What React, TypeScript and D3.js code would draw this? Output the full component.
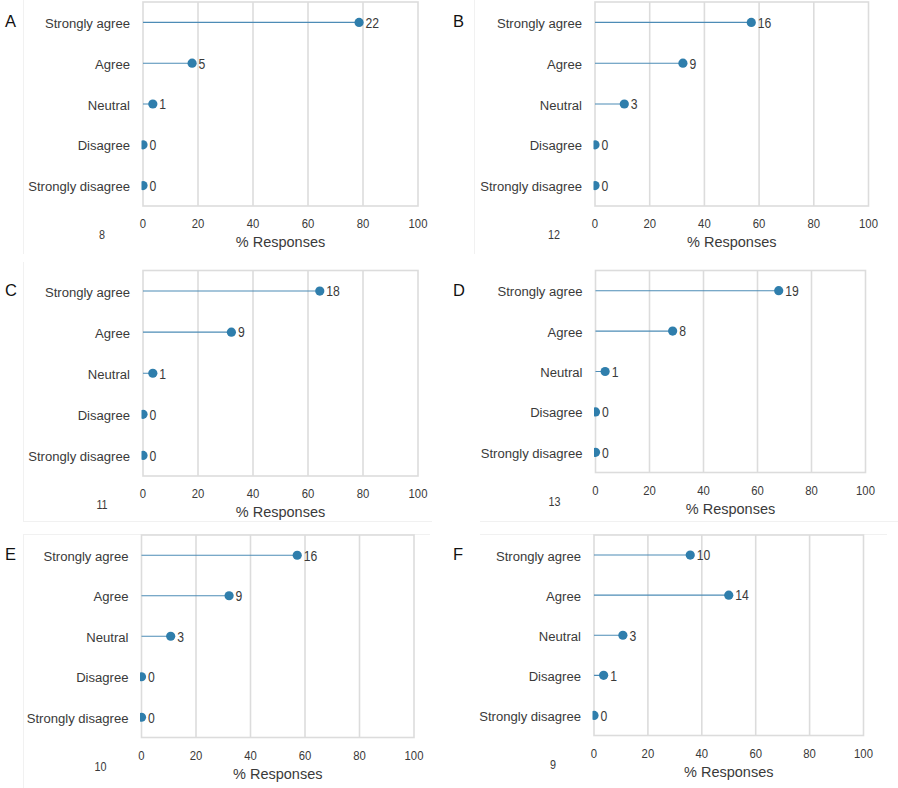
import * as d3 from 'd3'

// Likert categories, top to bottom
const categories = ['Strongly agree', 'Agree', 'Neutral', 'Disagree', 'Strongly disagree']

// response counts per panel (percent = count / total)
const countsA = [22, 5, 1, 0, 0]
const countsB = [16, 9, 3, 0, 0]
const countsC = [18, 9, 1, 0, 0]
const countsD = [19, 8, 1, 0, 0]
const countsE = [16, 9, 3, 0, 0]
const countsF = [10, 14, 3, 1, 0]

const panelLetters = ['A', 'B', 'C', 'D', 'E', 'F']
const panelNotes = ['8', '12', '11', '13', '10', '9']
const xTicks = [0, 20, 40, 60, 80, 100]
const xTitle = '% Responses'

const panelCounts = [countsA, countsB, countsC, countsD, countsE, countsF]

// plot frame of each panel in page pixels
const frames = [
  { left: 143, right: 418, top: 2, bottom: 206 },
  { left: 595, right: 868.5, top: 2, bottom: 206 },
  { left: 143, right: 418, top: 270.5, bottom: 476 },
  { left: 595.5, right: 865.5, top: 270.5, bottom: 472.5 },
  { left: 141.5, right: 414, top: 535, bottom: 737.5 },
  { left: 594, right: 863.5, top: 535, bottom: 735.5 },
]

const FONT = '"Liberation Sans", Arial, Helvetica, sans-serif'
const GRID = '#dcdcdc'
const DOT = '#2f7eac'
const STEM = '#4d8cb6'
const TEXT = '#3a3a3a'

// text that is a little narrower than the font, like the source image
function SText({ x, y, size, sx = 1, anchor = 'start', fill = TEXT, children }:
  { x: number, y: number, size: number, sx?: number, anchor?: string, fill?: string, children: any }) {
  return (
    <text transform={`translate(${x},${y}) scale(${sx},1)`} textAnchor={anchor}
      dominantBaseline="central" fontSize={size} fill={fill}>{children}</text>
  )
}

function Panel({ idx }: { idx: number }) {
  const f = frames[idx]
  const counts = panelCounts[idx]
  const total = d3.sum(counts)
  const pct = counts.map(c => (c / total) * 100)

  const x = d3.scaleLinear().domain([0, 100]).range([f.left, f.right])
  const y = d3.scalePoint<string>().domain(categories).range([f.top, f.bottom]).padding(0.5)
  const clipId = `clip-${idx}`

  return (
    <g>
      <defs>
        <clipPath id={clipId}>
          <rect x={f.left - 1.5} y={f.top} width={f.right - f.left + 1.5} height={f.bottom - f.top} />
        </clipPath>
      </defs>

      {/* grid + frame */}
      {xTicks.slice(1, -1).map(t => (
        <line key={t} x1={x(t)} x2={x(t)} y1={f.top} y2={f.bottom} stroke={GRID} strokeWidth={1.6} />
      ))}
      <rect x={f.left} y={f.top} width={f.right - f.left} height={f.bottom - f.top}
        fill="none" stroke={GRID} strokeWidth={1.6} />

      {/* lollipops */}
      <g clipPath={`url(#${clipId})`}>
        {categories.map((c, i) => (
          <g key={c}>
            {pct[i] > 0 && (
              <line x1={x(0)} x2={x(pct[i])} y1={y(c)} y2={y(c)} stroke={STEM} strokeWidth={1.1} />
            )}
            <circle cx={x(pct[i])} cy={y(c)} r={4.6} fill={DOT} />
          </g>
        ))}
      </g>

      {categories.map((c, i) => (
        <SText key={c} x={x(pct[i]) + 6.5} y={(y(c) || 0) + 0.5} size={14} sx={0.87}>{counts[i]}</SText>
      ))}

      {/* category labels */}
      {categories.map(c => (
        <SText key={c} x={f.left - 13} y={(y(c) || 0) + 1} size={13.5} sx={0.97} anchor="end">{c}</SText>
      ))}

      {/* x tick labels */}
      {xTicks.map(t => (
        <SText key={t} x={x(t)} y={f.bottom + 18} size={13} sx={0.87} anchor="middle">{t}</SText>
      ))}
      <SText x={(f.left + f.right) / 2} y={f.bottom + 36} size={14.5} anchor="middle">{xTitle}</SText>

      <SText x={f.left - 41} y={f.bottom + 29} size={12} sx={0.9} anchor="middle">{panelNotes[idx]}</SText>

      <SText x={idx % 2 === 0 ? 5 : 453} y={(y(categories[0]) || 0) - 1} size={16.5} fill="#111">
        {panelLetters[idx]}
      </SText>
    </g>
  )
}

export default function App() {
  return (
    <svg width={898} height={788} style={{ position: 'absolute', left: 0, top: 0, background: '#fff' }}
      fontFamily={FONT}>
      <rect width={898} height={788} fill="#fff" />
      {/* faint edges of the pasted sub-figures */}
      <g stroke="#f1f1f1" strokeWidth={1}>
        <line x1={23.5} x2={23.5} y1={0} y2={254} />
        <line x1={474.5} x2={474.5} y1={0} y2={254} />
        <line x1={23.5} x2={23.5} y1={262} y2={522} />
        <line x1={23} x2={432} y1={521.5} y2={521.5} />
        <line x1={480} x2={898} y1={521.5} y2={521.5} />
        <line x1={23.5} x2={23.5} y1={535} y2={788} />
        <line x1={23} x2={430} y1={534.5} y2={534.5} />
        <line x1={480} x2={887} y1={534.5} y2={534.5} />
      </g>
      {frames.map((_, i) => <Panel key={i} idx={i} />)}
    </svg>
  )
}
